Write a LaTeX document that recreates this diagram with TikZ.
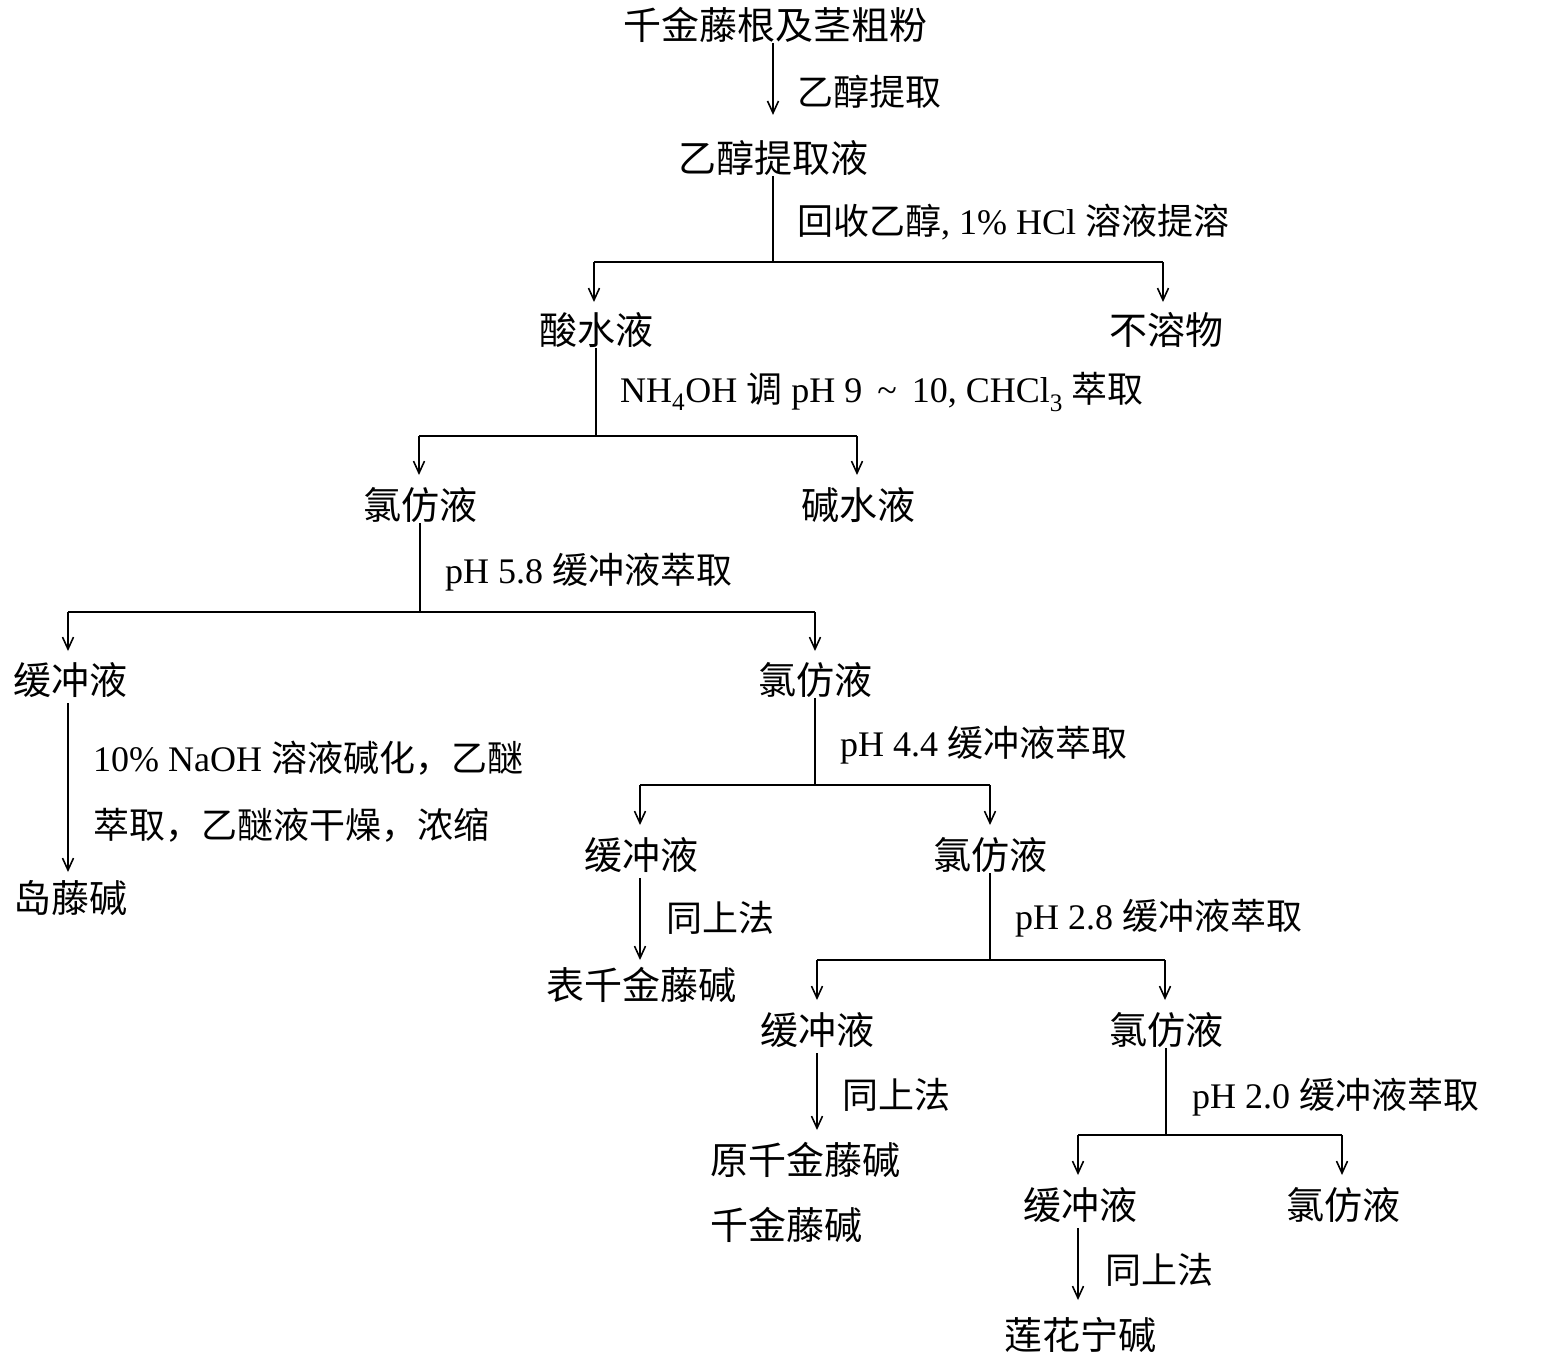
\documentclass[tikz,border=0pt]{standalone}
\usepackage{fontspec}
\setmainfont{Liberation Serif}
\newfontfamily\cjk{Noto Sans CJK SC}
\usetikzlibrary{arrows.meta}
\begin{document}
\begin{tikzpicture}[x=1pt,y=-1pt,
  lbl/.style={font=\fontsize{38}{44}\selectfont\cjk, inner sep=0pt},
  side/.style={font=\fontsize{36}{44}\selectfont, inner sep=0pt, anchor=west},
  ln/.style={line width=1.6pt},
  ar/.style={line width=1.6pt,-{Straight Barb[length=12pt,width=11pt,line width=1.6pt]}}]
\useasboundingbox (0,0) rectangle (1549,1359);
% nodes
\node[lbl] (a) at (775,25) {千金藤根及茎粗粉};
\node[lbl] (b) at (773,158) {乙醇提取液};
\node[lbl] (c) at (596,330) {酸水液};
\node[lbl] (d) at (1166,330) {不溶物};
\node[lbl] (e) at (420,505) {氯仿液};
\node[lbl] (f) at (858,505) {碱水液};
\node[lbl] (g) at (70,680) {缓冲液};
\node[lbl] (h) at (815,680) {氯仿液};
\node[lbl] (i) at (70,898) {岛藤碱};
\node[lbl] (j) at (641,855) {缓冲液};
\node[lbl] (k) at (990,855) {氯仿液};
\node[lbl] (l) at (641,985) {表千金藤碱};
\node[lbl] (m) at (817,1030) {缓冲液};
\node[lbl] (n) at (1166,1030) {氯仿液};
\node[lbl,anchor=west] (o) at (710,1160) {原千金藤碱};
\node[lbl,anchor=west] (o2) at (710,1225) {千金藤碱};
\node[lbl] (p) at (1080,1205) {缓冲液};
\node[lbl] (q) at (1343,1205) {氯仿液};
\node[lbl] (r) at (1080,1335) {莲花宁碱};
% side labels
\node[side] (s1) at (797,92) {\cjk 乙醇提取};
\node[side] (s2) at (797,222) {{\cjk 回收乙醇}, 1\% HCl {\cjk 溶液提溶}};
\node[side] (s3) at (620,392) {NH\textsubscript{4}OH {\cjk 调} pH 9 \,\textasciitilde\, 10, CHCl\textsubscript{3} {\cjk 萃取}};
\node[side] (s4) at (445,572) {pH 5.8 {\cjk 缓冲液萃取}};
\node[side] (s5) at (93,758) {10\% NaOH {\cjk 溶液碱化，乙醚}};
\node[side] (s6) at (93,825) {\cjk 萃取，乙醚液干燥，浓缩};
\node[side] (s7) at (840,745) {pH 4.4 {\cjk 缓冲液萃取}};
\node[side] (s8) at (666,918) {\cjk 同上法};
\node[side] (s9) at (1015,918) {pH 2.8 {\cjk 缓冲液萃取}};
\node[side] (s10) at (842,1095) {\cjk 同上法};
\node[side] (s11) at (1192,1097) {pH 2.0 {\cjk 缓冲液萃取}};
\node[side] (s12) at (1105,1270) {\cjk 同上法};
% connectors
\draw[ar] (a.south) ++(-2,0) -- ++(0,72);
\coordinate (j1) at (773,262);
\draw[ln] (b.south) -- (j1);
\draw[ln] (594,262) -- (1163,262);
\draw[ar] (594,262) -- (594,302);
\draw[ar] (1163,262) -- (1163,302);
\draw[ln] (c.south) -- (596,436);
\draw[ln] (419,436) -- (857,436);
\draw[ar] (419,436) -- (419,475);
\draw[ar] (857,436) -- (857,475);
\draw[ln] (e.south) -- (420,612);
\draw[ln] (68,612) -- (815,612);
\draw[ar] (68,612) -- (68,651);
\draw[ar] (815,612) -- (815,651);
\draw[ar] (68,703) -- (68,872);
\draw[ln] (h.south) -- (815,785);
\draw[ln] (640,785) -- (990,785);
\draw[ar] (640,785) -- (640,825);
\draw[ar] (990,785) -- (990,825);
\draw[ar] (640,878) -- (640,960);
\draw[ln] (k.south) -- (990,960);
\draw[ln] (817,960) -- (1165,960);
\draw[ar] (817,960) -- (817,1000);
\draw[ar] (1165,960) -- (1165,1000);
\draw[ar] (817,1053) -- (817,1130);
\draw[ln] (n.south) -- (1166,1135);
\draw[ln] (1078,1135) -- (1342,1135);
\draw[ar] (1078,1135) -- (1078,1175);
\draw[ar] (1342,1135) -- (1342,1175);
\draw[ar] (1078,1228) -- (1078,1300);
\end{tikzpicture}
\end{document}
